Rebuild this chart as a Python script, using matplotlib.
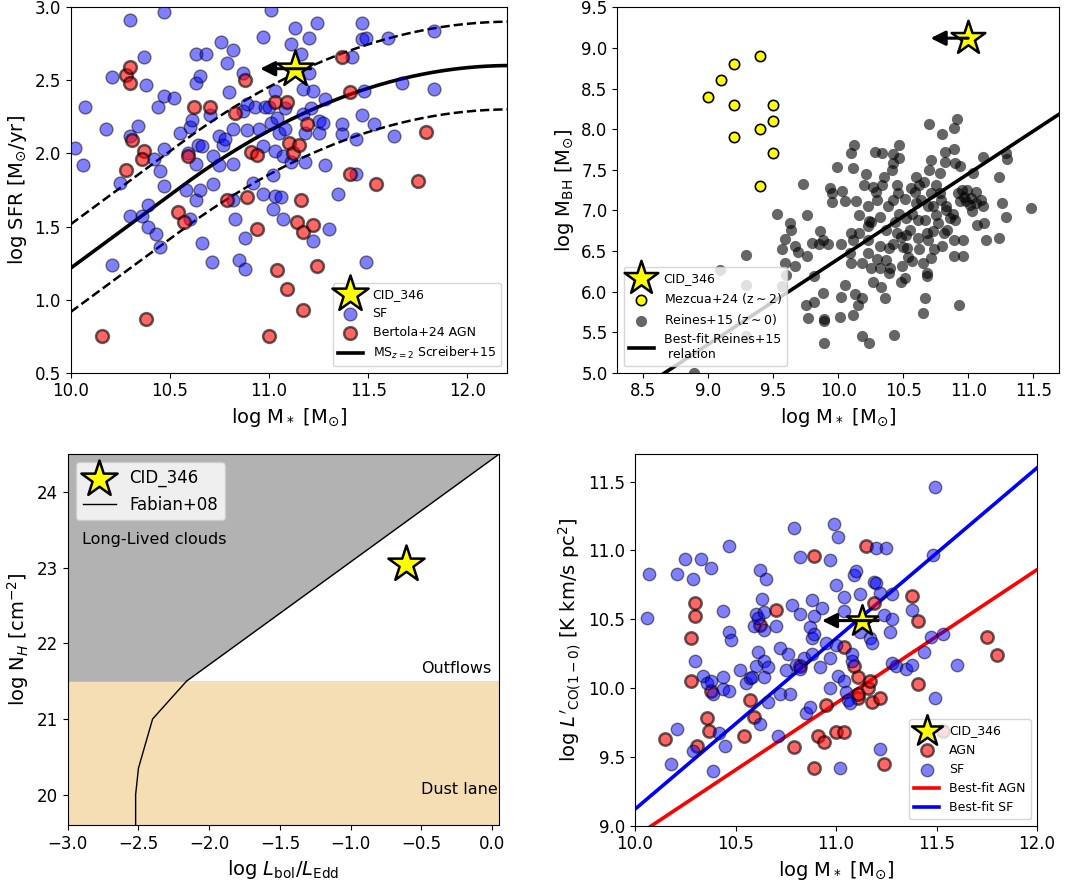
import matplotlib
matplotlib.use('Agg')
import matplotlib.pyplot as plt
from matplotlib.ticker import MultipleLocator
import numpy as np

# ---- panel a: SFR vs stellar mass ----
sf_mass = [10.02, 10.06, 10.07, 10.18, 10.21, 10.21, 10.25, 10.30, 10.30, 10.30,
           10.34, 10.37, 10.38, 10.36, 10.39, 10.39, 10.42, 10.44, 10.43, 10.45,
           10.45, 10.47, 10.47, 10.47, 10.47, 10.52, 10.55, 10.58, 10.59, 10.60,
           10.61, 10.60, 10.63, 10.63, 10.63, 10.63, 10.64, 10.65, 10.65, 10.66,
           10.66, 10.68, 10.70, 10.72, 10.72, 10.71, 10.75, 10.76, 10.75, 10.77,
           10.78, 10.79, 10.80, 10.82, 10.82, 10.82, 10.82, 10.83, 10.85, 10.87,
           10.87, 10.88, 10.88, 10.89, 10.89, 10.92, 10.93, 10.95, 10.97, 10.97,
           10.97, 10.98, 11.00, 11.01, 11.01, 11.02, 11.02, 11.03, 11.03, 11.03,
           11.04, 11.05, 11.06, 11.07, 11.07, 11.08, 11.08, 11.11, 11.11, 11.13,
           11.16, 11.17, 11.17, 11.18, 11.18, 11.20, 11.20, 11.22, 11.21, 11.22,
           11.24, 11.25, 11.25, 11.27, 11.28, 11.28, 11.30, 11.35, 11.37, 11.37,
           11.42, 11.44, 11.44, 11.47, 11.47, 11.47, 11.48, 11.49, 11.49, 11.53,
           11.60, 11.63, 11.67, 11.83, 11.83]
sf_sfr = [2.04, 1.92, 2.32, 2.17, 2.52, 1.24, 1.80, 2.91, 1.57, 2.12,
          2.19, 2.66, 2.47, 1.57, 1.65, 1.50, 1.96, 2.32, 1.45, 1.36,
          1.88, 2.97, 2.39, 2.03, 1.78, 2.38, 2.14, 1.75, 2.00, 2.18,
          2.23, 1.55, 2.68, 2.48, 1.68, 1.93, 2.06, 2.53, 1.75, 1.39,
          2.05, 2.68, 2.26, 1.98, 1.79, 1.26, 2.12, 2.76, 1.92, 2.06,
          2.10, 2.62, 2.42, 2.71, 2.17, 1.93, 1.68, 1.55, 1.27, 2.55,
          2.29, 1.21, 1.42, 2.16, 2.34, 1.80, 2.32, 2.17, 2.05, 2.80,
          1.72, 2.32, 2.32, 2.21, 2.98, 1.85, 1.62, 2.43, 2.02, 1.71,
          2.24, 2.14, 1.70, 1.55, 1.98, 2.17, 2.31, 2.75, 1.94, 2.86,
          2.68, 2.44, 2.27, 2.14, 1.94, 2.55, 2.79, 2.43, 2.31, 1.40,
          2.89, 2.22, 2.14, 2.21, 2.37, 1.92, 1.48, 1.72, 2.20, 2.13,
          2.66, 2.10, 1.86, 2.26, 2.89, 2.78, 2.43, 2.79, 1.26, 2.20,
          2.79, 2.12, 2.48, 2.84, 2.44]
agn_mass = [10.16, 10.28, 10.28, 10.30, 10.30, 10.31, 10.37, 10.36, 10.38, 10.54,
            10.57, 10.59, 10.62, 10.70, 10.79, 10.83, 10.88, 10.89, 10.91, 10.94,
            10.94, 11.00, 11.03, 11.04, 11.09, 11.10, 11.12, 11.09, 11.14, 11.15,
            11.16, 11.17, 11.17, 11.19, 11.22, 11.24, 11.37, 11.41, 11.41, 11.54,
            11.75, 11.79]
agn_sfr = [0.75, 1.89, 2.54, 2.59, 2.48, 2.09, 2.02, 1.96, 0.87, 1.60,
           1.53, 1.98, 2.32, 2.32, 1.68, 2.28, 2.50, 1.70, 2.01, 1.99,
           1.48, 0.75, 2.35, 1.20, 2.35, 2.07, 2.00, 1.07, 1.53, 2.06,
           1.68, 1.46, 0.93, 2.20, 1.51, 1.23, 2.66, 2.42, 1.86, 1.79,
           1.81, 2.15]

# Schreiber+15 main sequence parameters (z = 2)
ms_z = 2.0
ms_m0, ms_a0, ms_a1, ms_m1, ms_a2 = 0.5, 1.5, 0.3, 0.36, 2.5
ms_scatter = 0.3

cid_mass = 11.13
cid_sfr = 2.58

# ---- panel b: black hole mass vs stellar mass ----
mezcua_mass = [9.0, 9.1, 9.2, 9.4, 9.2, 9.5, 9.5, 9.4, 9.2, 9.5, 9.4]
mezcua_mbh = [8.4, 8.6, 8.8, 8.9, 8.3, 8.3, 8.1, 8.0, 7.9, 7.7, 7.3]

reines_mass = [8.89, 9.09, 9.29, 9.29, 9.29, 9.53, 9.63, 9.64, 9.59, 9.57,
               9.59, 9.60, 9.57, 9.67, 9.69, 9.67, 9.73, 9.76, 9.76, 9.75,
               9.77, 9.81, 9.81, 9.80, 9.85, 9.86, 9.88, 9.88, 9.89, 9.89,
               9.89, 9.92, 9.94, 9.95, 9.95, 9.99, 10.01, 10.02, 10.03, 10.05,
               10.02, 10.05, 10.09, 10.10, 10.11, 10.11, 10.10, 10.10, 10.12, 10.11,
               10.13, 10.14, 10.15, 10.18, 10.16, 10.18, 10.20, 10.21, 10.18, 10.23,
               10.23, 10.24, 10.23, 10.24, 10.25, 10.25, 10.27, 10.28, 10.29, 10.30,
               10.30, 10.32, 10.32, 10.33, 10.34, 10.34, 10.35, 10.36, 10.37, 10.38,
               10.39, 10.39, 10.40, 10.41, 10.42, 10.42, 10.43, 10.44, 10.45, 10.45,
               10.46, 10.47, 10.47, 10.47, 10.48, 10.48, 10.49, 10.51, 10.51, 10.52,
               10.52, 10.53, 10.54, 10.56, 10.57, 10.57, 10.59, 10.60, 10.61, 10.61,
               10.62, 10.62, 10.64, 10.65, 10.65, 10.66, 10.67, 10.67, 10.68, 10.68,
               10.69, 10.69, 10.70, 10.70, 10.71, 10.71, 10.71, 10.73, 10.74, 10.75,
               10.75, 10.77, 10.78, 10.79, 10.80, 10.80, 10.81, 10.82, 10.82, 10.83,
               10.83, 10.84, 10.86, 10.88, 10.89, 10.90, 10.91, 10.89, 10.89, 10.89,
               10.90, 10.92, 10.93, 10.94, 10.94, 10.95, 10.96, 10.96, 10.97, 10.98,
               10.99, 11.01, 11.02, 11.03, 11.04, 11.06, 11.06, 11.07, 11.10, 11.11,
               11.11, 11.12, 11.14, 11.24, 11.24, 11.26, 11.29, 11.29, 11.30, 11.48,
               10.27, 10.42, 10.32, 10.37, 10.55, 10.60, 10.73, 10.78, 10.68, 10.50,
               10.42, 10.16, 10.23]
reines_mbh = [5.00, 6.27, 6.45, 6.08, 5.45, 6.96, 6.84, 6.76, 6.65, 6.52,
              6.35, 6.20, 6.07, 6.56, 6.49, 6.31, 7.33, 6.94, 6.44, 5.83,
              5.67, 6.19, 5.87, 6.60, 6.58, 6.75, 6.64, 5.98, 5.66, 5.64,
              5.36, 6.58, 7.27, 7.21, 7.10, 7.53, 5.69, 6.58, 7.24, 6.08,
              5.93, 7.11, 6.47, 6.35, 5.71, 6.63, 6.72, 7.71, 7.80, 7.52,
              5.97, 7.11, 5.83, 5.92, 6.94, 6.35, 7.31, 7.45, 5.45, 6.81,
              7.05, 5.36, 6.64, 6.87, 6.29, 6.86, 6.12, 7.72, 7.23, 6.40,
              7.13, 6.56, 6.29, 6.06, 7.31, 7.70, 7.41, 5.92, 6.39, 7.05,
              6.53, 6.23, 6.29, 7.50, 7.69, 7.58, 5.47, 6.86, 6.72, 7.31,
              7.21, 7.80, 7.64, 6.96, 6.67, 6.12, 6.31, 7.14, 6.17, 6.90,
              6.70, 6.53, 6.43, 7.27, 6.96, 6.37, 7.23, 7.41, 6.88, 6.66,
              7.31, 6.52, 7.13, 5.73, 6.35, 7.35, 5.92, 6.88, 6.23, 6.19,
              6.64, 7.05, 7.50, 8.06, 7.62, 6.41, 7.21, 6.74, 6.52, 7.31,
              6.94, 6.84, 7.46, 7.13, 7.94, 6.56, 6.72, 7.72, 7.60, 7.05,
              7.01, 6.76, 6.90, 6.96, 8.02, 7.58, 8.12, 7.76, 6.64, 6.44,
              6.88, 7.21, 5.83, 7.11, 7.54, 7.25, 6.64, 6.44, 7.17, 7.11,
              7.25, 7.07, 7.15, 6.99, 7.46, 7.23, 7.09, 6.82, 7.13, 7.05,
              7.66, 6.84, 6.64, 7.41, 6.66, 7.09, 6.92, 7.70, 7.63, 7.03,
              7.29, 7.13, 6.92, 6.76, 6.76, 7.09, 7.05, 7.21, 6.72, 6.55,
              6.59, 6.72, 6.47]

# Reines & Volonteri 2015 best fit
reines_alpha = 7.45
reines_beta = 1.05
reines_fit_x = [8.3, 11.7]

cid_mbh_mass = 11.0
cid_mbh = 9.12

# ---- panel c: NH vs Eddington ratio ----
fabian_edd = [-2.52, -2.52, -2.50, -2.40, -2.16, 0.05]
fabian_nh = [19.6, 20.0, 20.35, 21.0, 21.5, 24.5]
dust_lane_nh = 21.5
cid_edd = -0.61
cid_nh = 23.05

# ---- panel d: CO luminosity vs stellar mass ----
co_sf_mass = [10.06, 10.07, 10.18, 10.21, 10.21, 10.25, 10.29, 10.30, 10.29, 10.33,
              10.34, 10.36, 10.38, 10.38, 10.39, 10.39, 10.42, 10.44, 10.44, 10.44,
              10.45, 10.47, 10.47, 10.48, 10.47, 10.52, 10.55, 10.57, 10.58, 10.59,
              10.60, 10.61, 10.60, 10.61, 10.62, 10.63, 10.64, 10.64, 10.64, 10.65,
              10.64, 10.62, 10.66, 10.66, 10.70, 10.71, 10.72, 10.72, 10.76, 10.77,
              10.75, 10.78, 10.79, 10.80, 10.82, 10.82, 10.82, 10.84, 10.85, 10.87,
              10.88, 10.87, 10.88, 10.89, 10.89, 10.88, 10.92, 10.93, 10.95, 10.97,
              10.97, 10.97, 10.99, 11.00, 11.00, 11.01, 11.01, 11.02, 11.04, 11.04,
              11.04, 11.05, 11.06, 11.07, 11.08, 11.08, 11.09, 11.10, 11.12, 11.12,
              11.17, 11.18, 11.19, 11.20, 11.20, 11.22, 11.22, 11.24, 11.25, 11.27,
              11.28, 11.28, 11.28, 11.30, 11.35, 11.38, 11.38, 11.44, 11.47, 11.48,
              11.49, 11.49, 11.53, 11.60]
co_sf_lum = [10.51, 10.83, 9.45, 9.70, 10.83, 10.94, 10.79, 10.20, 9.54, 10.94,
             10.09, 10.04, 10.87, 10.05, 9.96, 9.40, 9.67, 10.56, 10.08, 9.99,
             9.58, 11.03, 10.41, 10.35, 9.98, 10.13, 10.04, 10.07, 10.08, 10.45,
             10.54, 10.26, 10.16, 10.51, 10.86, 10.65, 10.42, 10.20, 10.08, 10.79,
             10.55, 9.74, 10.15, 9.90, 10.45, 9.65, 10.29, 9.96, 10.25, 9.96,
             10.13, 10.60, 11.16, 10.17, 10.95, 10.54, 10.14, 10.22, 9.82, 9.86,
             10.64, 10.44, 10.36, 10.52, 10.39, 10.25, 10.15, 10.58, 10.33, 10.93,
             10.22, 10.00, 11.19, 10.31, 10.75, 11.10, 10.09, 9.42, 10.66, 10.56,
             10.05, 9.97, 9.91, 9.89, 10.25, 10.20, 10.82, 10.85, 10.68, 10.41,
             10.36, 10.33, 10.77, 10.76, 11.02, 9.56, 10.69, 10.53, 11.02, 10.41,
             10.50, 10.68, 10.18, 10.16, 10.14, 10.17, 10.57, 10.26, 10.37, 10.97,
             11.46, 9.93, 10.39, 10.17]
co_agn_mass = [10.15, 10.28, 10.28, 10.30, 10.30, 10.31, 10.36, 10.37, 10.38, 10.54,
               10.57, 10.59, 10.62, 10.70, 10.79, 10.82, 10.89, 10.89, 10.91, 10.94,
               10.95, 11.00, 11.04, 11.04, 11.09, 11.11, 11.11, 11.11, 11.15, 11.16,
               11.17, 11.18, 11.19, 11.22, 11.24, 11.38, 11.41, 11.41, 11.75, 11.80,
               11.53]
co_agn_lum = [9.63, 10.05, 10.36, 10.52, 10.62, 9.58, 9.78, 9.69, 9.98, 9.65,
              9.91, 9.79, 10.46, 10.57, 9.57, 10.16, 9.42, 10.96, 9.65, 9.61,
              9.88, 9.68, 9.68, 10.30, 10.16, 9.93, 9.96, 10.08, 11.03, 10.00,
              10.05, 9.90, 10.62, 9.93, 9.45, 10.67, 10.49, 10.03, 10.37, 10.24,
              9.69]

# best-fit lines: L'CO = slope * (M - 10) + intercept
fit_sf_slope, fit_sf_icpt = 1.24, 9.12
fit_agn_slope, fit_agn_icpt = 0.97, 8.92
fit_x = [10.0, 12.0]

cid_co_mass = 11.13
cid_co = 10.49


def star(ax, x, y, s, label=None):
    ax.scatter(x, y, marker='*', s=s, c='yellow', edgecolors='k',
               linewidths=1.8, zorder=6, label=label)


def left_arrow(ax, x0, x1, y):
    ax.annotate('', xy=(x1, y), xytext=(x0, y),
                arrowprops=dict(arrowstyle='-|>', color='k', lw=2.2,
                                mutation_scale=22, shrinkA=0, shrinkB=0),
                zorder=7)


def main():
    fig = plt.figure(figsize=(10.73, 8.83), dpi=100)

    # ---------------- top left ----------------
    ax1 = fig.add_axes([0.0659, 0.5779, 0.4066, 0.4138])
    star(ax1, cid_mass, cid_sfr, 750, 'CID_346')
    left_arrow(ax1, cid_mass + 0.08, cid_mass - 0.175, cid_sfr)
    ax1.scatter(sf_mass, sf_sfr, s=85, c='blue', alpha=0.5, edgecolors='k',
                linewidths=1, label='SF', zorder=3)
    ax1.scatter(agn_mass, agn_sfr, s=85, c='red', alpha=0.6, edgecolors='k',
                linewidths=1.8, label='Bertola+24 AGN', zorder=3)
    m = np.linspace(10.0, 12.2, 200) - 9
    r = np.log10(1 + ms_z)
    ms = m - ms_m0 + ms_a0 * r - ms_a1 * np.maximum(0, m - ms_m1 - ms_a2 * r) ** 2
    ax1.plot(m + 9, ms, 'k-', lw=2.6, label=r'MS$_{z=2}$ Screiber+15', zorder=2)
    ax1.plot(m + 9, ms + ms_scatter, 'k--', lw=1.8, zorder=2)
    ax1.plot(m + 9, ms - ms_scatter, 'k--', lw=1.8, zorder=2)
    ax1.set_xlim(10.0, 12.2)
    ax1.set_ylim(0.5, 3.0)
    ax1.set_xlabel(r'log M$_*$ [M$_{\odot}$]', fontsize=14)
    ax1.set_ylabel(r'log SFR [M$_{\odot}$/yr]', fontsize=14)
    ax1.tick_params(labelsize=12)
    ax1.legend(loc='lower right', fontsize=9)

    # ---------------- top right ----------------
    ax2 = fig.add_axes([0.5753, 0.5779, 0.4119, 0.4138])
    star(ax2, cid_mbh_mass, cid_mbh, 650, 'CID_346')
    left_arrow(ax2, cid_mbh_mass, cid_mbh_mass - 0.29, cid_mbh)
    ax2.scatter(mezcua_mass, mezcua_mbh, s=55, c='yellow', edgecolors='k',
                linewidths=1.2, label=r'Mezcua+24 (z$\sim$2)', zorder=4)
    ax2.scatter(reines_mass, reines_mbh, s=65, c='k', alpha=0.6,
                linewidths=0, label=r'Reines+15 (z$\sim$0)', zorder=3)
    fx = np.array(reines_fit_x)
    ax2.plot(fx, reines_alpha + reines_beta * (fx - 11), 'k-', lw=2.6,
             label='Best-fit Reines+15\n relation', zorder=2)
    ax2.set_xlim(8.3, 11.7)
    ax2.set_ylim(5.0, 9.5)
    ax2.set_xlabel(r'log M$_*$ [M$_{\odot}$]', fontsize=14)
    ax2.set_ylabel(r'log M$_{\rm BH}$ [M$_{\odot}$]', fontsize=14)
    ax2.tick_params(labelsize=12)
    ax2.legend(loc='lower left', fontsize=9)

    # ---------------- bottom left ----------------
    ax3 = fig.add_axes([0.0631, 0.0657, 0.4022, 0.4202])
    ax3.set_xlim(-3.0, 0.05)
    ax3.set_ylim(19.6, 24.5)
    ax3.axhspan(19.6, dust_lane_nh, color='wheat', lw=0, zorder=0)
    ax3.fill_betweenx([fabian_nh[-2], fabian_nh[-1]], -3.0,
                      [fabian_edd[-2], fabian_edd[-1]],
                      color='grey', alpha=0.6, lw=0, zorder=0)
    star(ax3, cid_edd, cid_nh, 750, 'CID_346')
    ax3.plot(fabian_edd, fabian_nh, 'k-', lw=1, label='Fabian+08', zorder=2)
    ax3.text(-2.9, 23.37, 'Long-Lived clouds', fontsize=11.5, va='center')
    ax3.text(-0.5, 21.67, 'Outflows', fontsize=11.5, va='center')
    ax3.text(-0.5, 20.07, 'Dust lane', fontsize=11.5, va='center')
    ax3.set_xlabel(r'log $L_{\rm bol}/L_{\rm Edd}$', fontsize=14)
    ax3.set_ylabel(r'log N$_{H}$ [cm$^{-2}$]', fontsize=14)
    ax3.tick_params(labelsize=12)
    ax3.legend(loc='upper left', fontsize=12)

    # ---------------- bottom right ----------------
    ax4 = fig.add_axes([0.5918, 0.0649, 0.3747, 0.4209])
    star(ax4, cid_co_mass, cid_co, 550, 'CID_346')
    left_arrow(ax4, cid_co_mass + 0.08, cid_co_mass - 0.2, cid_co)
    ax4.scatter(co_agn_mass, co_agn_lum, s=80, c='red', alpha=0.6,
                edgecolors='k', linewidths=1.8, label='AGN', zorder=3)
    ax4.scatter(co_sf_mass, co_sf_lum, s=80, c='blue', alpha=0.5,
                edgecolors='k', linewidths=1, label='SF', zorder=3)
    fx = np.array(fit_x)
    ax4.plot(fx, fit_agn_slope * (fx - 10) + fit_agn_icpt, color='red', lw=2.6,
             label='Best-fit AGN', zorder=2)
    ax4.plot(fx, fit_sf_slope * (fx - 10) + fit_sf_icpt, color='blue', lw=2.6,
             label='Best-fit SF', zorder=2)
    ax4.set_xlim(10.0, 12.0)
    ax4.set_ylim(9.0, 11.7)
    ax4.xaxis.set_major_locator(MultipleLocator(0.5))
    ax4.set_xlabel(r'log M$_*$ [M$_{\odot}$]', fontsize=14)
    ax4.set_ylabel(r"log $L'_{\rm CO(1-0)}$ [K km/s pc$^2$]", fontsize=14)
    ax4.tick_params(labelsize=12)
    ax4.legend(loc='lower right', fontsize=9)

    fig.savefig('out.png', dpi=100)


if __name__ == '__main__':
    main()
